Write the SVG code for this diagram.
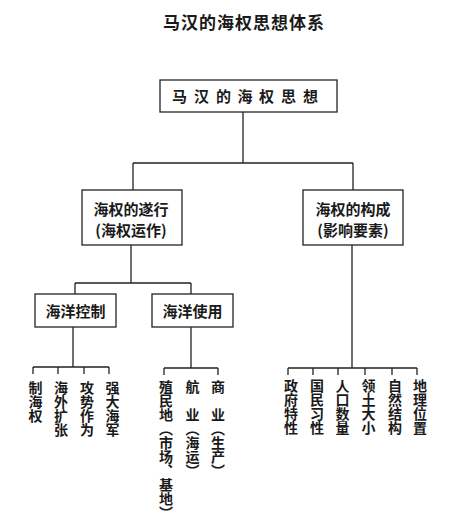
<svg xmlns="http://www.w3.org/2000/svg" width="450" height="521" viewBox="0 0 450 521">
<style>
text{font-family:"Noto Sans CJK SC","Noto Sans CJK JP",sans-serif;fill:#1a1a1a;font-weight:bold}
.box{fill:#fff;stroke:#222;stroke-width:1.3}
.ln{fill:none;stroke:#222;stroke-width:1.3}
.t15{font-size:15px}
.c{text-anchor:middle}
.v{font-size:14px;writing-mode:vertical-rl;text-anchor:start}
</style>
<rect width="450" height="521" fill="#fff"/>
<text x="244" y="29" class="c" style="font-size:17px;letter-spacing:1px">马汉的海权思想体系</text>
<g id="connectors" class="ln">
<path d="M243 112V163M133 163H353M133 163V190M353 163V190"/>
<path d="M131 245V283M75 283H191M75 283V294M191 283V294"/>
<path d="M73 327V367M33 367H109M33 367V374M58 367V374M84 367V374M109 367V374"/>
<path d="M191 327V368M164 368H218M164 368V375M218 368V375"/>
<path d="M352 245V368M288 368H417M288 368V375M313 368V375M338 368V375M365 368V375M392 368V375M417 368V375"/>
</g>
<g id="root">
<rect class="box" x="160" y="80" width="177" height="32"/>
<text class="t15" x="172 194 216 237.5 259 281 303" y="102">马汉的海权思想</text>
</g>
<g id="exercise">
<rect class="box" x="82" y="190" width="100" height="55"/>
<text class="t15 c" x="131" y="215">海权的遂行</text>
<text class="t15 c" x="131" y="236">(海权运作)</text>
</g>
<g id="composition">
<rect class="box" x="303" y="190" width="100" height="55"/>
<text class="t15 c" x="353" y="215">海权的构成</text>
<text class="t15 c" x="353" y="236">(影响要素)</text>
</g>
<g id="sea-control">
<rect class="box" x="35" y="294" width="81" height="33"/>
<text class="t15 c" x="75.5" y="317">海洋控制</text>
</g>
<g id="sea-use">
<rect class="box" x="152" y="294" width="81" height="33"/>
<text class="t15 c" x="192.5" y="317">海洋使用</text>
</g>
<g id="leaf-1"><text class="v" x="35.5" y="381">制海权</text></g>
<g id="leaf-2"><text class="v" x="61" y="381">海外扩张</text></g>
<g id="leaf-3"><text class="v" x="87" y="381">攻势作为</text></g>
<g id="leaf-4"><text class="v" x="112.5" y="381">强大海军</text></g>
<g id="leaf-5"><text class="v" x="166" y="380">殖民地（市场、基地）</text></g>
<g id="leaf-6"><text class="v" x="192.5" y="380">航　业（海运）</text></g>
<g id="leaf-7"><text class="v" x="218" y="380">商　业（生产）</text></g>
<g id="leaf-8"><text class="v" x="291" y="379">政府特性</text></g>
<g id="leaf-9"><text class="v" x="317" y="379">国民习性</text></g>
<g id="leaf-10"><text class="v" x="342.5" y="379">人口数量</text></g>
<g id="leaf-11"><text class="v" x="368.5" y="379">领土大小</text></g>
<g id="leaf-12"><text class="v" x="395" y="379">自然结构</text></g>
<g id="leaf-13"><text class="v" x="420" y="379">地理位置</text></g>
</svg>
